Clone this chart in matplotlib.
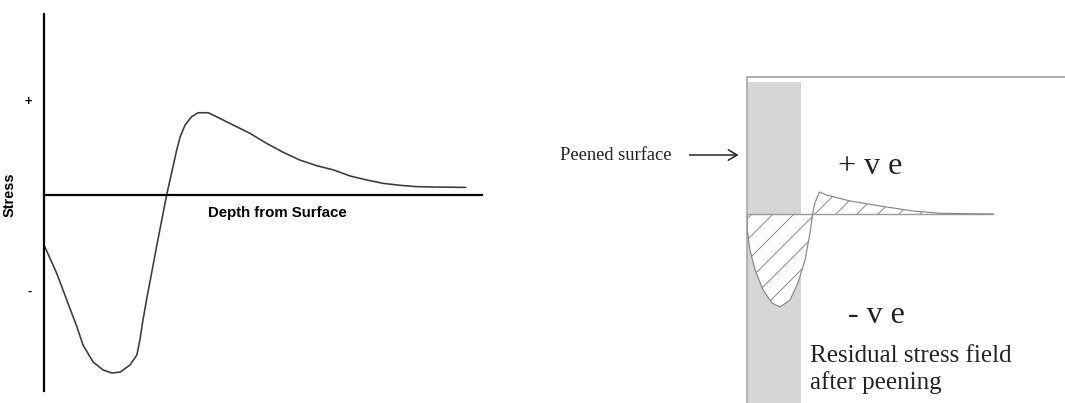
import matplotlib
matplotlib.use("Agg")
import matplotlib.pyplot as plt

# ---------------- data ----------------
# Left panel: schematic residual stress vs depth (depth 0..100, stress arbitrary %)
left_depth = [0, 2.9, 5.2, 7.5, 8.9, 11.2, 13.5, 15.5, 17.4, 19.6, 21.2, 21.9, 22.6,
              23.4, 25.7, 28.0, 30.3, 31.1, 32.2, 33.7, 35.2, 37.5, 39.4, 43.2,
              47.0, 50.8, 54.6, 58.4, 62.3, 66.1, 69.9, 73.7, 77.5, 81.3, 85.1,
              88.9, 96.3]
left_stress = [-26.3, -41.2, -55.3, -69.3, -78.9, -87.9, -92.1, -93.7, -93.2, -89.5,
               -84.2, -76.3, -65.8, -55.3, -27.2, 0.0, 23.7, 30.7, 36.8, 41.2, 43.3,
               43.3, 41.2, 36.8, 32.5, 27.2, 22.5, 18.4, 15.4, 13.2, 10.0, 7.9, 6.1,
               5.1, 4.4, 4.2, 4.0]
left_ticks = [50, -50]
left_ticklabels = ["+", "-"]

# Right panel: residual stress field after peening
right_depth = [0, 0.1, 1.2, 3.3, 6.5, 10.2, 13.4, 17.5, 20.7, 23.6, 25.6, 26.7,
               27.6, 29.4, 32.4, 41.9, 54.1, 67.5, 78.5, 100]
right_stress = [0, -16, -36, -56, -76, -89, -93, -86, -69, -46, -19, 0,
                11, 22, 19, 13, 8, 3, 0.7, 0]
peened_depth = 22.0
baseline_end = 100

# ---------------- figure ----------------
DPI = 126
W, H = 1065, 403
fig = plt.figure(figsize=(W / DPI, H / DPI), dpi=DPI)
PT = 72.0 / DPI  # points per pixel
plt.rcParams['hatch.linewidth'] = 1.0 * PT


def fx(px):
    return px / W


def fy(py):
    return 1 - py / H


# ---- left axes ----
L0, L1, T0, B0 = 44, 482, 14, 391
axL = fig.add_axes([fx(L0), fy(B0), (L1 - L0) / W, (B0 - T0) / H])
axL.set_xlim(0, 100)
axL.set_ylim(-(B0 - 195) / 1.9, (195 - T0) / 1.9)
axL.plot(left_depth, left_stress, color='#3a3a3a', lw=1.6 * PT,
         solid_capstyle='round', solid_joinstyle='round')
for s in ['top', 'right']:
    axL.spines[s].set_visible(False)
axL.spines['bottom'].set_position(('data', 0))
axL.spines['left'].set_linewidth(2.2 * PT)
axL.spines['bottom'].set_linewidth(2.2 * PT)
axL.set_xticks([])
axL.set_yticks(left_ticks)
axL.set_yticklabels(left_ticklabels, fontfamily='Liberation Sans', fontweight='bold',
                    fontsize=13 * PT)
axL.tick_params(axis='y', length=0, pad=12 * PT)
axL.set_ylabel("Stress", fontfamily='Liberation Sans', fontweight='bold', fontsize=14.5 * PT)
axL.yaxis.set_label_coords((17 - L0) / (L1 - L0), (B0 - 195) / (B0 - T0))
axL.set_xlabel("Depth from Surface", fontfamily='Liberation Sans', fontweight='bold',
               fontsize=15 * PT, va='center')
axL.xaxis.set_label_coords((277 - L0) / (L1 - L0), (B0 - 213) / (B0 - T0))
axL.patch.set_alpha(0)

# ---- right axes ----
R0, R1, RT, RB = 747, 1065, 77, 403
axR = fig.add_axes([fx(R0), fy(RB), (R1 - R0) / W, (RB - RT) / H])
xs = 2.46  # px per depth unit
axR.set_xlim(0, (R1 - R0) / xs)
axR.set_ylim(-(RB - 214), 214 - RT)
axR.set_xticks([])
axR.set_yticks([])
for s in ['bottom', 'right']:
    axR.spines[s].set_visible(False)
axR.spines['top'].set_color('#b0b0b0')
axR.spines['top'].set_linewidth(2 * PT)
axR.spines['left'].set_color('#a0a0a0')
axR.spines['left'].set_linewidth(1.5 * PT)
axR.patch.set_alpha(0)

# peened layer band
axR.fill_between([0, peened_depth], -(RB - 214), 214 - 82, color='#d6d6d6', lw=0, zorder=1)
# hatched stress field
axR.fill_between(right_depth, right_stress, 0, facecolor='white', edgecolor='#8a8a8a',
                 hatch='//', lw=0, zorder=2)
axR.plot([0, baseline_end], [0, 0], color='#9a9a9a', lw=1.4 * PT, zorder=3)
axR.plot(right_depth, right_stress, color='#888888', lw=1.2 * PT, zorder=4)

# ---- texts ----
serif = 'Liberation Serif'
fig.text(fx(560), fy(160), "Peened surface", family=serif, fontsize=18.5 * PT,
         color='#222222', ha='left', va='baseline')
fig.add_artist(matplotlib.patches.FancyArrowPatch(
    (fx(686), fy(155)), (fx(742), fy(155)), transform=fig.transFigure,
    arrowstyle='->,head_length=5,head_width=3', lw=1.5 * PT, color='#222222',
    mutation_scale=1))
fig.text(fx(838), fy(174), "+ v e", family=serif, fontsize=32 * PT, color='#222222',
         ha='left', va='baseline')
fig.text(fx(848), fy(323), "- v e", family=serif, fontsize=32 * PT, color='#222222',
         ha='left', va='baseline')
fig.text(fx(810), fy(362), "Residual stress field", family=serif, fontsize=25 * PT,
         color='#222222', ha='left', va='baseline')
fig.text(fx(810), fy(389), "after peening", family=serif, fontsize=25 * PT,
         color='#222222', ha='left', va='baseline')

fig.savefig("out.png", dpi=DPI)
